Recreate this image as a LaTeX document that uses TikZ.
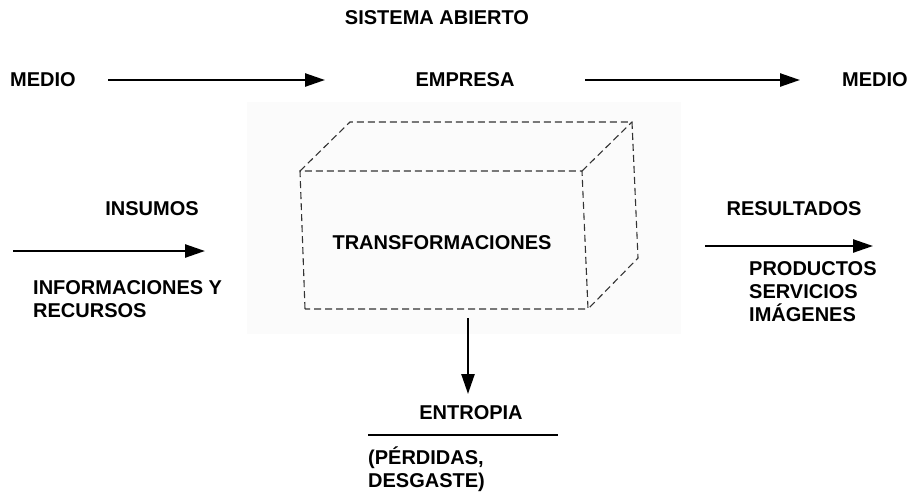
\documentclass[tikz,border=0pt]{standalone}
\usepackage{fontspec}
\setmainfont{Liberation Sans}
\usetikzlibrary{arrows.meta}

\begin{document}
\begin{tikzpicture}[x=1pt,y=-1pt,
  lbl/.style={font=\fontsize{20}{23}\selectfont\bfseries, inner sep=0pt},
  flow/.style={line width=2.5pt, -{Triangle[length=20pt,width=13pt]}},
  edge/.style={dash pattern=on 7pt off 4pt, line width=1.1pt, draw=black!80}]
\def \ytop   {80}
\def \ymid   {246}
\def \xdown  {468}

\useasboundingbox (0,0) rectangle (908,491);
% shaded area behind the box
\fill [black!1.5] (247,102) rectangle (681,334);

% box corners
\coordinate (ftl) at (300,171);
\coordinate (ftr) at (582,171);
\coordinate (fbr) at (588,309);
\coordinate (fbl) at (305,309);
\coordinate (btl) at (350,122);
\coordinate (btr) at (632,122);
\coordinate (bbr) at (638,258);
\draw [edge] (fbl) -- (ftl) -- (ftr) -- (fbr) -- cycle;
\draw [edge] (ftl) -- (btl) -- (btr) -- (bbr) -- (fbr);
\draw [edge] (ftr) -- (btr);

% top row
\node [lbl] (titulo) at (437,18) {SISTEMA ABIERTO};
\node [lbl, anchor=west] (medioizq) at (10,\ytop) {MEDIO};
\node [lbl] (empresa) at (465,\ytop) {EMPRESA};
\node [lbl, anchor=west] (medioder) at (842,\ytop) {MEDIO};
\coordinate (a1s) at (108,\ytop);
\coordinate (a1e) at (325,\ytop);
\coordinate (a2s) at (585,\ytop);
\coordinate (a2e) at (800,\ytop);
\draw [flow] (a1s) -- (a1e);
\draw [flow] (a2s) -- (a2e);

% inputs
\node [lbl] (insumos) at (152,209) {INSUMOS};
\coordinate (ins) at (13,251);
\coordinate (ine) at (205,251);
\draw [flow] (ins) -- (ine);
\node [lbl, align=left, anchor=north west] (informaciones) at (33,280) {INFORMACIONES Y\\RECURSOS};

% transformation
\node [lbl] (transf) at (442,243) {TRANSFORMACIONES};

% outputs
\node [lbl] (resultados) at (794,209) {RESULTADOS};
\coordinate (outs) at (705,\ymid);
\coordinate (oute) at (873,\ymid);
\draw [flow] (outs) -- (oute);
\node [lbl, align=left, anchor=north west] (productos) at (749,261) {PRODUCTOS\\SERVICIOS\\IMÁGENES};

% entropy
\coordinate (ds) at (\xdown,318);
\coordinate (de) at (\xdown,394);
\draw [flow] (ds) -- (de);
\node [lbl] (entropia) at (471,413) {ENTROPIA};
\coordinate (ls) at (368,435);
\coordinate (le) at (558,435);
\draw [line width=2.5pt] (ls) -- (le);
\node [lbl, align=left, anchor=north west] (perdidas) at (368,447) {(PÉRDIDAS,\\DESGASTE)};

\end{tikzpicture}
\end{document}
